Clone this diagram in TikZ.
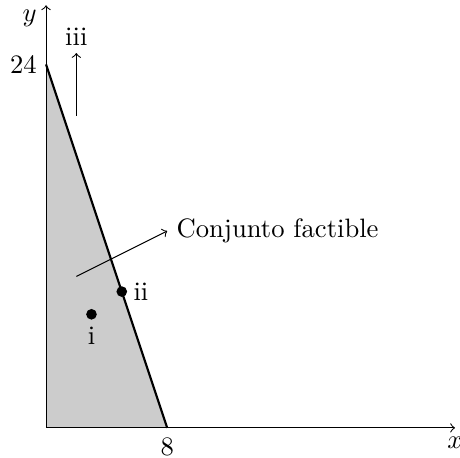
\documentclass[tikz,border=0pt]{standalone}
\usepackage{tikz}
\usetikzlibrary{calc,positioning}
\tikzset{
    punto/.style={circle,fill=black,inner sep=0pt,minimum size=4pt},
    region/.style={fill=gray!40}
}

\begin{document}
\begin{tikzpicture}[x=0.2cm,y=0.2cm]
        \useasboundingbox (-3.04,-1.98) rectangle (27.33,28.25);
        \coordinate (O) at (0,0);
        \coordinate (A) at (0,24);
        \coordinate (B) at (8,0);
        \coordinate (xend) at (27,0);
        \coordinate (yend) at (0,27.9);
        % region factible
        \fill[region] (O) -- (A) -- (B) -- cycle;
        \draw[->] (O) -- (xend);
        \draw[->] (O) -- (yend);
        \draw[thick] (A) -- (B);
        \node[below] (xl) at (xend) {$x$};
        \node[anchor=east] (yl) at (0,27.05) {$y$};
        \node[left] (l24) at (A) {24};
        \node[below] (l8) at (B) {8};
        % puntos
        \node[punto] (p1) at (3,7.5) {};
        \node[below=-1pt of p1] (l1) {i};
        \node[punto] (p2) at (5,9) {};
        \node[right=-1.3pt of p2] (l2) {ii};
        \coordinate (c3a) at (2,20.6);
        \coordinate (c3b) at (2,24.75);
        \draw[->] (c3a) -- (c3b);
        \node[above=-0.6pt of c3b] (l3) {iii};
        % etiqueta
        \coordinate (c4a) at (2,10);
        \coordinate (c4b) at (8,13);
        \draw[->] (c4a) -- (c4b);
        \node[right] (lc) at (c4b) {Conjunto factible};
    \end{tikzpicture}
\end{document}
